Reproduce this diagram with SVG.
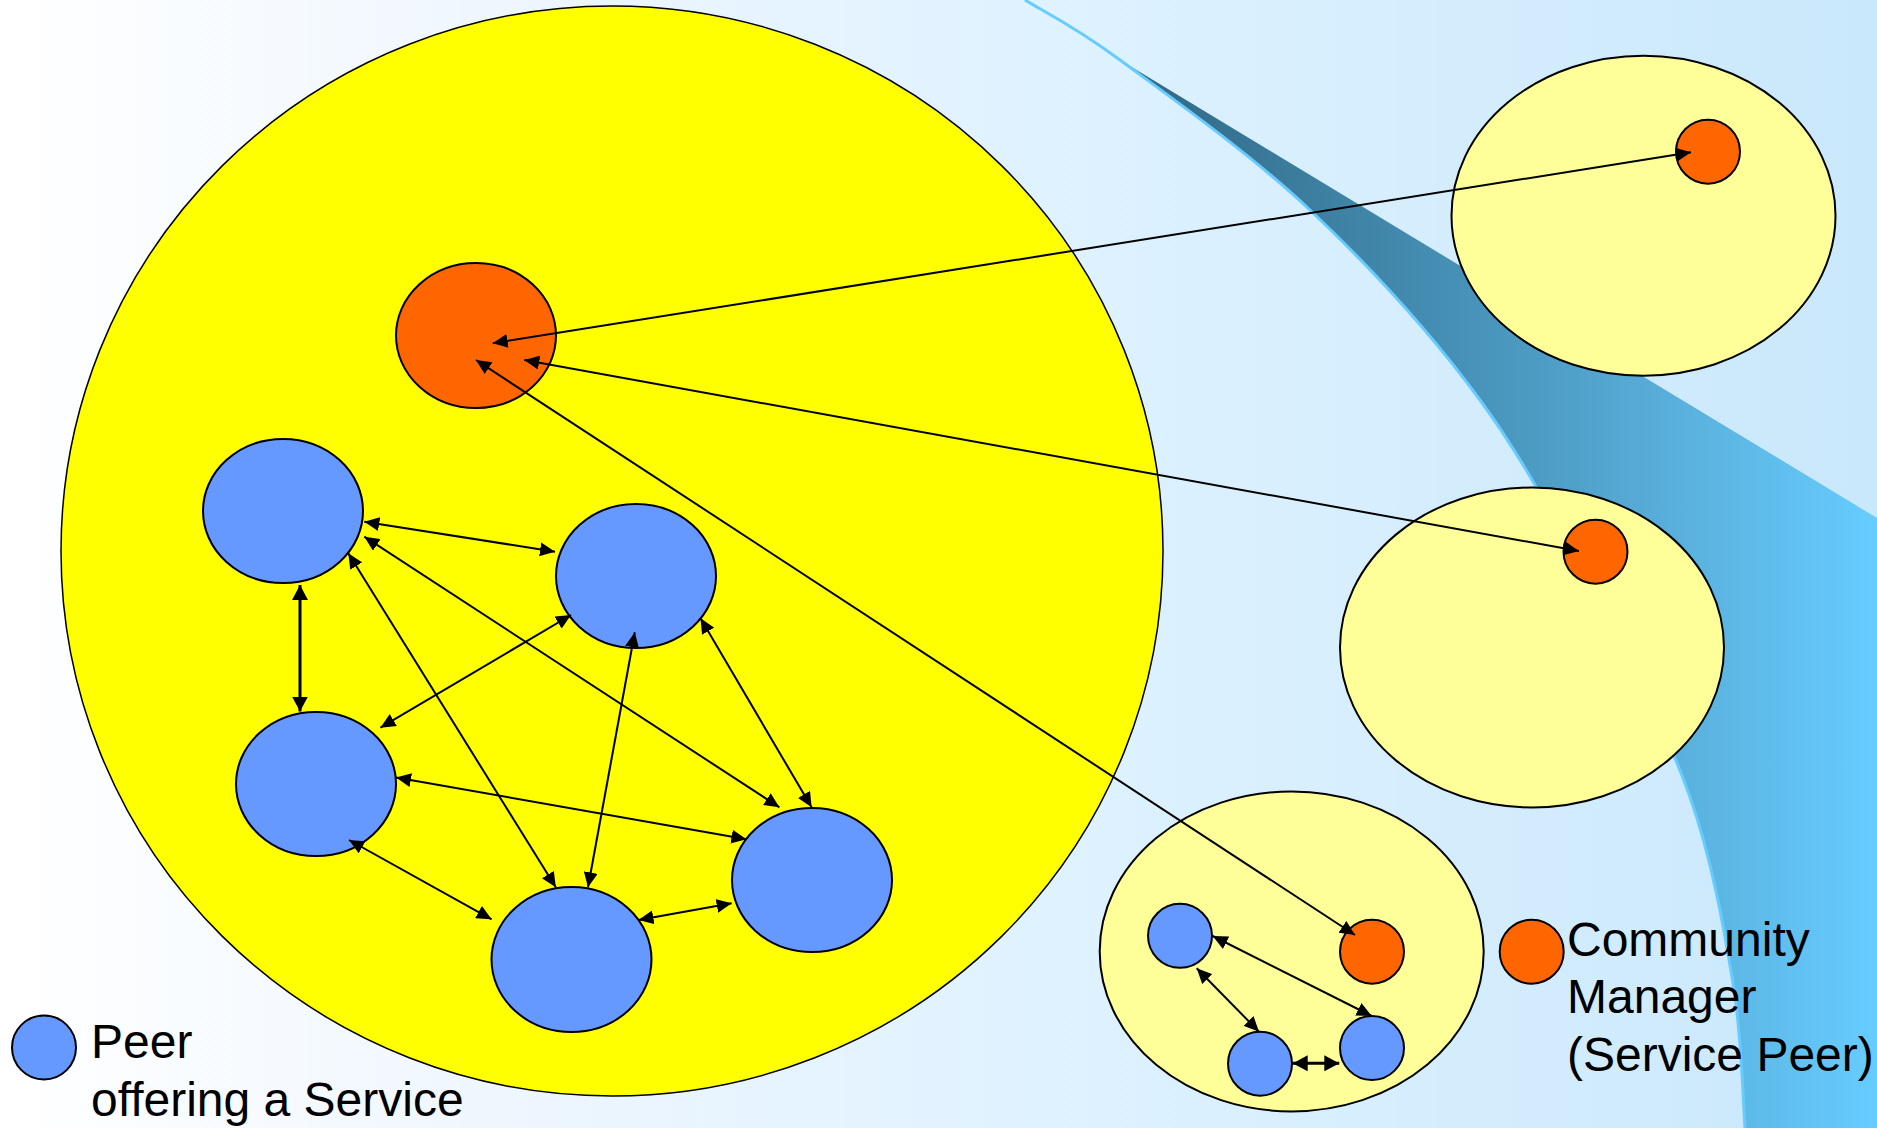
<svg xmlns="http://www.w3.org/2000/svg" width="1877" height="1128" viewBox="0 0 1877 1128">
  <defs>
    <linearGradient id="bgGrad" x1="0" y1="0" x2="1877" y2="0" gradientUnits="userSpaceOnUse">
      <stop offset="0" stop-color="#FFFFFF"/>
      <stop offset="0.27" stop-color="#EEF6FE"/>
      <stop offset="0.55" stop-color="#DFF2FF"/>
      <stop offset="1" stop-color="#C9E8FB"/>
    </linearGradient>
    <linearGradient id="swooshGrad" x1="1110" y1="0" x2="1877" y2="0" gradientUnits="userSpaceOnUse">
      <stop offset="0" stop-color="#2F6580"/>
      <stop offset="0.45" stop-color="#4690B6"/>
      <stop offset="0.75" stop-color="#5AB1DD"/>
      <stop offset="1" stop-color="#66CCFF"/>
    </linearGradient>
    <marker id="ah" viewBox="0 0 15 14" refX="15" refY="7" markerWidth="15" markerHeight="14" markerUnits="userSpaceOnUse" orient="auto-start-reverse">
      <path d="M0,0 L15,7 L0,14 Z" fill="#000"/>
    </marker>
    <marker id="ahBold" viewBox="0 0 15 16" refX="15" refY="8" markerWidth="15" markerHeight="16" markerUnits="userSpaceOnUse" orient="auto-start-reverse">
      <path d="M0,0 L15,8 L0,16 Z" fill="#000"/>
    </marker>
    <style>
      .group-main { fill: #FFFF00; stroke: #000; stroke-width: 1.5; }
      .group-sub { fill: #FFFF99; stroke: #000; stroke-width: 2; }
      .peer { fill: #6699FF; stroke: #000; stroke-width: 2; }
      .manager { fill: #FF6600; stroke: #000; stroke-width: 2; }
      .link { stroke: #000; stroke-width: 2; fill: none; marker-start: url(#ah); marker-end: url(#ah); }
      .link-bold { stroke: #000; stroke-width: 3; fill: none; marker-start: url(#ahBold); marker-end: url(#ahBold); }
      .label { font-family: "Liberation Sans", Arial, sans-serif; font-size: 48px; fill: #000; }
    </style>
  </defs>

  <!-- backdrop -->
  <rect x="0" y="0" width="1877" height="1128" fill="url(#bgGrad)"/>
  <g id="swoosh">
    <path d="M1120,60 L1877,518 L1877,1128 L1745,1128 C1743,1103.8 1742.2,1038.2 1733,983 C1723.8,927.8 1712.2,860 1690,797 C1667.8,734 1635,671.2 1600,605 C1565,538.8 1528.3,465.8 1480,400 C1431.7,334.2 1370,266.7 1310,210 C1250,153.3 1167.5,95 1120,60 Z" fill="url(#swooshGrad)"/>
    <path d="M1025,0 C1040.8,10 1072.5,25 1120,60 C1167.5,95 1250,153.3 1310,210 C1370,266.7 1431.7,334.2 1480,400 C1528.3,465.8 1565,538.8 1600,605 C1635,671.2 1667.8,734 1690,797 C1712.2,860 1723.8,927.8 1733,983 C1742.2,1038.2 1743,1103.8 1745,1128" fill="none" stroke="#66CCFF" stroke-width="3"/>
  </g>

  <!-- community groups -->
  <g id="community-main">
    <ellipse class="group-main" cx="612" cy="551" rx="551" ry="545"/>
  </g>
  <g id="community-top">
    <ellipse class="group-sub" cx="1643.5" cy="215.7" rx="192" ry="160"/>
  </g>
  <g id="community-middle">
    <ellipse class="group-sub" cx="1532" cy="647.5" rx="192" ry="160"/>
  </g>
  <g id="community-bottom">
    <ellipse class="group-sub" cx="1291.7" cy="951.4" rx="192" ry="160"/>
  </g>

  <!-- managers -->
  <g id="manager-main">
    <ellipse class="manager" cx="476" cy="335.5" rx="80" ry="72.5"/>
  </g>
  <g id="manager-top">
    <circle class="manager" cx="1708" cy="151.7" r="32"/>
  </g>
  <g id="manager-middle">
    <circle class="manager" cx="1595.5" cy="551.7" r="32"/>
  </g>
  <g id="manager-bottom">
    <circle class="manager" cx="1372" cy="951.7" r="32"/>
  </g>

  <!-- peers of the main community -->
  <g id="peer-a">
    <ellipse class="peer" cx="283" cy="511" rx="80" ry="72"/>
  </g>
  <g id="peer-b">
    <ellipse class="peer" cx="636" cy="576" rx="80" ry="72"/>
  </g>
  <g id="peer-c">
    <ellipse class="peer" cx="316" cy="784" rx="80" ry="72"/>
  </g>
  <g id="peer-d">
    <ellipse class="peer" cx="571.5" cy="959.5" rx="80" ry="72.5"/>
  </g>
  <g id="peer-e">
    <ellipse class="peer" cx="812" cy="880" rx="80" ry="72"/>
  </g>

  <!-- peers of the bottom community -->
  <g id="peer-s1">
    <circle class="peer" cx="1180" cy="935.8" r="32"/>
  </g>
  <g id="peer-s2">
    <circle class="peer" cx="1260" cy="1063.7" r="32"/>
  </g>
  <g id="peer-s3">
    <circle class="peer" cx="1372" cy="1048" r="32"/>
  </g>

  <!-- connectors -->
  <g id="connectors">
    <line class="link" x1="1691" y1="152.3" x2="492.7" y2="343.3"/>
    <line class="link" x1="1578.9" y1="551" x2="524.3" y2="360"/>
    <line class="link" x1="1355" y1="935" x2="476" y2="360"/>

    <line class="link" x1="364.3" y1="521.7" x2="555" y2="551.7"/>
    <line class="link" x1="364.3" y1="536.7" x2="779.4" y2="807.3"/>
    <line class="link" x1="348.3" y1="553.3" x2="555.8" y2="887.3"/>
    <line class="link-bold" x1="300" y1="585" x2="300" y2="711.5"/>
    <line class="link" x1="571" y1="615" x2="380.4" y2="727.7"/>
    <line class="link" x1="634.8" y1="632.3" x2="588" y2="887.3"/>
    <line class="link" x1="700.5" y1="618.3" x2="811.6" y2="807.3"/>
    <line class="link" x1="396" y1="777.5" x2="746.4" y2="839.3"/>
    <line class="link" x1="349" y1="840" x2="491.6" y2="919.3"/>
    <line class="link" x1="638.5" y1="920" x2="731.7" y2="903.3"/>

    <line class="link" x1="1212.7" y1="936" x2="1371.7" y2="1016"/>
    <line class="link" x1="1196.7" y1="968.3" x2="1259" y2="1031.7"/>
    <line class="link-bold" x1="1292.7" y1="1063.3" x2="1339.3" y2="1063.3"/>
  </g>

  <!-- legend -->
  <g id="legend-peer">
    <circle class="peer" cx="44" cy="1047.5" r="32"/>
    <text class="label" x="91" y="1058">Peer</text>
    <text class="label" x="91" y="1116">offering a Service</text>
  </g>
  <g id="legend-manager">
    <circle class="manager" cx="1531.7" cy="951.7" r="32"/>
    <text class="label" x="1567" y="955.5">Community</text>
    <text class="label" x="1567" y="1013">Manager</text>
    <text class="label" x="1567" y="1071">(Service Peer)</text>
  </g>
</svg>
